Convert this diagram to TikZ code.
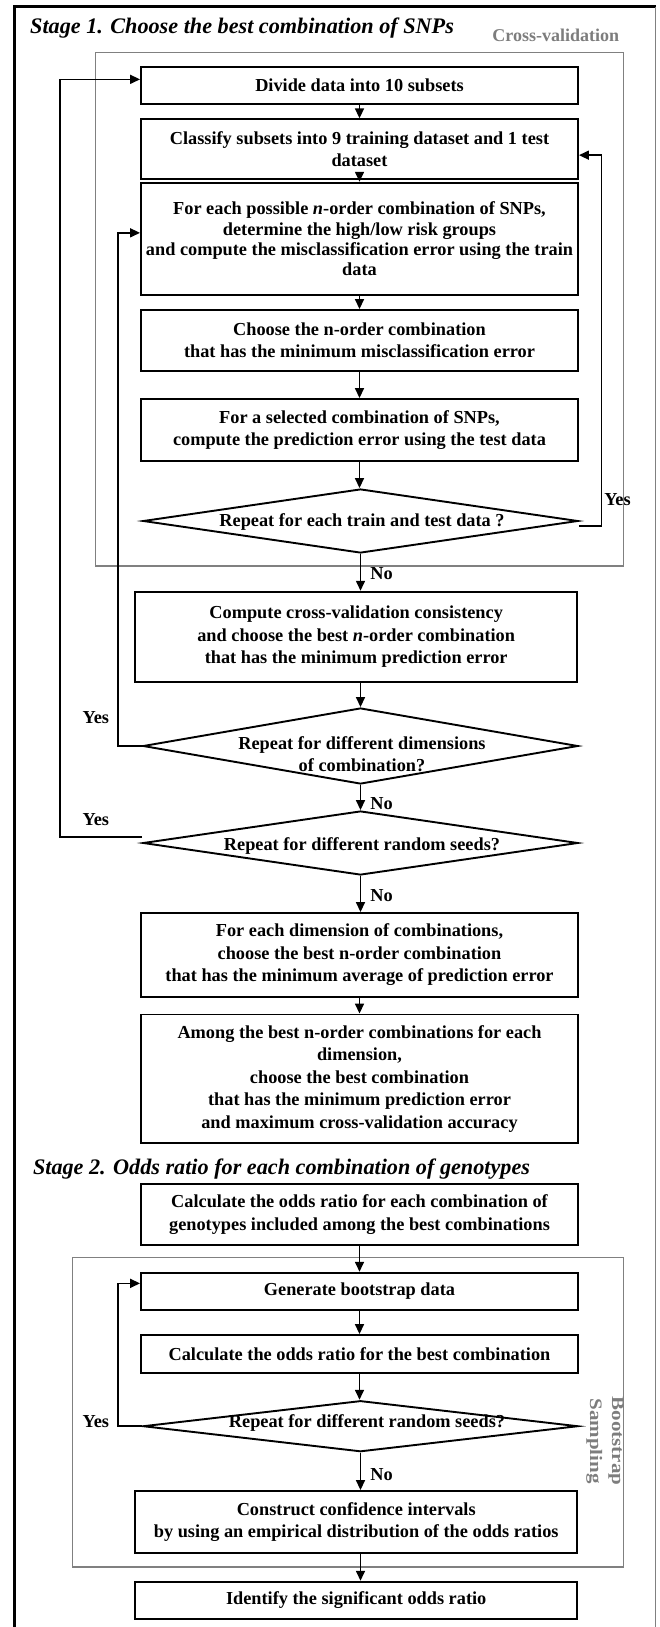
\documentclass[tikz,border=0pt]{standalone}
\usepackage{fontspec}
\setmainfont{Liberation Serif}
\usetikzlibrary{arrows.meta,shapes.geometric,calc}
\definecolor{boxgray}{RGB}{128,128,128}
\definecolor{labgray}{RGB}{125,125,125}
\begin{document}
\begin{tikzpicture}[x=1pt,y=-1pt,
  txt/.style={font=\fontsize{18.3}{22.5}\selectfont\bfseries},
  box/.style={txt,draw,line width=1.9pt,inner sep=0pt,minimum width=437pt,align=center},
  wbox/.style={box,minimum width=442.3pt},
  dia/.style={draw,diamond,line width=1.9pt,inner sep=0pt,minimum width=435pt},
  dtext/.style={txt,align=center,inner sep=0pt},
  grp/.style={draw=boxgray,line width=1.5pt},
  conn/.style={line width=1.6pt},
  arr/.style={conn,-{Triangle[length=10pt,width=9pt]}},
  lab/.style={txt,inner sep=0pt},
  ttl/.style={font=\fontsize{22.2}{24}\selectfont\bfseries\itshape,inner sep=0pt}
]
\useasboundingbox (0,0) rectangle (659,1627);
% outer frame
\draw[line width=3pt] (14,1632) -- (14,6.7) -- (655.5,6.7);
\draw[line width=1.2pt,draw=gray] (655.5,6.7) -- (655.5,1632);

% group boxes
\draw[grp] (95.7,52.7) rectangle (623.3,566);
\draw[grp] (72.3,1257.3) rectangle (623.3,1567);
\node[txt,text=labgray,anchor=base east,inner sep=0pt,font=\fontsize{18}{20}\selectfont\bfseries] (cvlab) at (619.3,41.7) {Cross-validation};
\node[txt,text=labgray,rotate=-90,align=center,inner sep=0pt,font=\fontsize{17.5}{22}\selectfont\bfseries] (bslab) at (605,1441) {\scalebox{1.2}[1]{Bootstrap}\\\scalebox{1.2}[1]{Sampling}};

% titles
\node[ttl,anchor=base west] (s1) at (30,33.3) {Stage 1. Choose the best combination of SNPs};
\node[ttl,anchor=base west] (s2) at (32.8,1174) {Stage 2. Odds ratio for each combination of genotypes};

% stage 1 boxes
\node[box,minimum height=37.3pt] (b1) at (359.5,85.35) {Divide data into 10 subsets};
\node[box,minimum height=59.7pt] (b2) at (359.5,149.15) {Classify subsets into 9 training dataset and 1 test\\dataset};
\node[box,minimum height=112.3pt,font=\fontsize{18.3}{20.3}\selectfont\bfseries] (b3) at (359.5,238.85) {For each possible \textit{n}-order combination of SNPs,\\determine the high/low risk groups\\and compute the misclassification error using the train\\data};
\node[box,minimum height=60.7pt] (b4) at (359.5,340.35) {Choose the n-order combination\\that has the minimum misclassification error};
\node[box,minimum height=62pt] (b5) at (359.5,430) {For a selected combination of SNPs,\\compute the prediction error using the test data};
\node[dia,minimum height=64pt] (d1) at (360.5,521) {};
\node[dtext] (t1) at (362,522) {Repeat for each train and test data ?};
\node[wbox,minimum height=90pt] (b6) at (356.2,636.7) {Compute cross-validation consistency\\and choose the best \textit{n}-order combination\\that has the minimum prediction error};
\node[dia,minimum height=76pt] (d2) at (360.5,746) {};
\node[dtext] (t2) at (362,754) {Repeat for different dimensions\\of combination?};
\node[dia,minimum height=64pt] (d3) at (360.5,843) {};
\node[dtext] (t3) at (362,846) {Repeat for different random seeds?};
\node[box,minimum height=83.7pt] (b7) at (359.5,954.85) {For each dimension of combinations,\\choose the best n-order combination\\that has the minimum average of prediction error};
\node[box,minimum height=128.2pt] (b8) at (359.5,1078.6) {Among the best n-order combinations for each\\dimension,\\choose the best combination\\that has the minimum prediction error\\and maximum cross-validation accuracy};

% stage 2 boxes
\node[box,minimum height=61pt] (b9) at (359.5,1214.5) {Calculate the odds ratio for each combination of\\genotypes included among the best combinations};
\node[box,minimum height=37.3pt] (b10) at (359.5,1291.35) {Generate bootstrap data};
\node[box,minimum height=37.7pt] (b11) at (359.5,1353.85) {Calculate the odds ratio for the best combination};
\node[dia,minimum height=51pt] (d4) at (360.5,1426.2) {};
\node[dtext] (t4) at (367,1422.7) {Repeat for different random seeds?};
\node[wbox,minimum height=61.7pt] (b12) at (356.2,1521.85) {Construct confidence intervals\\by using an empirical distribution of the odds ratios};
\node[wbox,minimum height=37.6pt] (b13) at (356.2,1600.5) {Identify the significant odds ratio};

% main flow arrows
\draw[arr] (b1.south) -- (b1.south |- b2.north);
\draw[arr] (b2.south) -- (b2.south |- b3.north);
\draw[arr] (b3.south) -- (b3.south |- b4.north);
\draw[arr] (b4.south) -- (b4.south |- b5.north);
\draw[arr] (b5.south) -- (b5.south |- d1.north);
\draw[arr] (d1.south) -- (d1.south |- b6.north);
\draw[arr] (b6.south -| d1.south) -- (d1.south |- d2.north);
\draw[arr] (d2.south) -- (d2.south |- d3.north);
\draw[arr] (d3.south) -- (d3.south |- b7.north);
\draw[arr] (b7.south) -- (b7.south |- b8.north);
\draw[arr] (b9.south) -- (b9.south |- b10.north);
\draw[arr] (b10.south) -- (b10.south |- b11.north);
\draw[arr] (b11.south) -- (b11.south |- d4.north);
\draw[arr] (d4.south) -- (d4.south |- b12.north);
\draw[arr] (b12.south -| d4.south) -- (d4.south |- b13.north);

% loops
\draw[arr] ($(d1.east)+(0,5)$) -- ++(22.5,0) |- ($(b2.east)+(0,6)$);
\draw[arr] (d2.west) -- ++(-24.3,0) |- ($(b3.west)+(0,-6)$);
\draw[arr] ($(d3.west)+(0,-6)$) -- ++(-82,0) |- ($(b1.west)+(0,-6)$);
\draw[arr] (d4.west) -- ++(-24.3,0) |- ($(b10.west)+(0,-8)$);

% labels
\node[lab] (y1) at (617.5,499.3) {Yes};
\node[lab] (y2) at (95.8,717.3) {Yes};
\node[lab] (y3) at (95.8,819.3) {Yes};
\node[lab] (y4) at (95.8,1421.7) {Yes};
\node[lab] (n1) at (381.5,573.3) {No};
\node[lab] (n2) at (381.5,803.3) {No};
\node[lab] (n3) at (381.5,896) {No};
\node[lab] (n4) at (381.5,1474.3) {No};
\end{tikzpicture}
\end{document}
